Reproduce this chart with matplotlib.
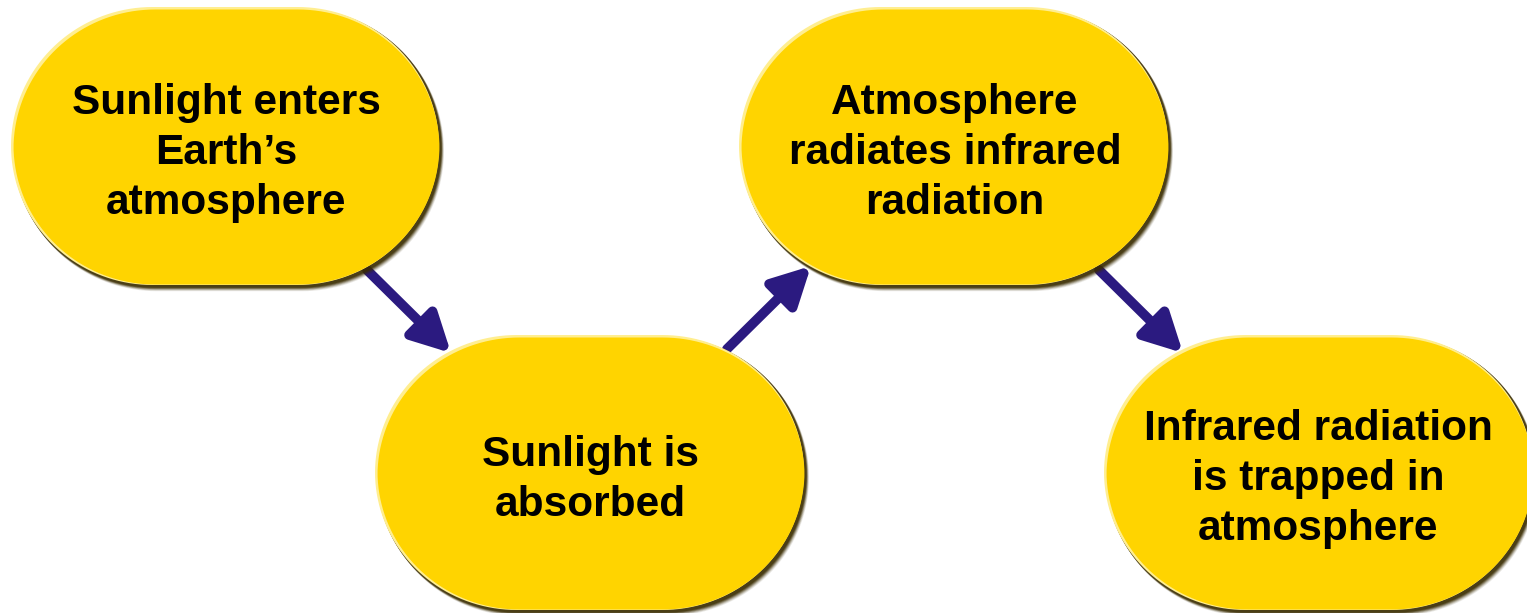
import numpy as np
import matplotlib
matplotlib.use("Agg")
import matplotlib.pyplot as plt
from matplotlib.path import Path
from matplotlib.patches import PathPatch, FancyArrowPatch

# ---- data ----
labels = [
    "Sunlight enters\nEarth\u2019s\natmosphere",
    "Sunlight is\nabsorbed",
    "Atmosphere\nradiates infrared\nradiation",
    "Infrared radiation\nis trapped in\natmosphere",
]
# flow order: step i -> step i+1
flow = [(0, 1), (1, 2), (2, 3)]

# ---- layout (pixel coordinates) ----
W, H = 1527, 613
boxes = [  # x0, y0, x1, y1
    (12, 8, 441, 287),
    (376, 336, 806, 612),
    (740, 8, 1170, 287),
    (1105, 336, 1535, 612),
]
text_centers = [(226, 153), (590, 480), (955, 153), (1318, 479)]
arrows = [((367, 270), (451, 353)), ((727, 349), (811, 266)), ((1099, 270), (1183, 353))]

FILL = "#FFD400"
ARROW = "#2B1A80"

fig = plt.figure(figsize=(W / 100, H / 100), dpi=100)
ax = fig.add_axes([0, 0, 1, 1])
ax.set_xlim(0, W)
ax.set_ylim(H, 0)
ax.axis("off")


def stadium(x0, y0, x1, y1, rx, ry, n=40):
    t = np.linspace(0, np.pi / 2, n)
    pts = []
    cx, cy = x1 - rx, y0 + ry
    pts += list(zip(cx + rx * np.sin(t), cy - ry * np.cos(t)))
    cx, cy = x1 - rx, y1 - ry
    pts += list(zip(cx + rx * np.cos(t), cy + ry * np.sin(t)))
    cx, cy = x0 + rx, y1 - ry
    pts += list(zip(cx - rx * np.sin(t), cy + ry * np.cos(t)))
    cx, cy = x0 + rx, y0 + ry
    pts += list(zip(cx - rx * np.cos(t), cy - ry * np.sin(t)))
    pts.append(pts[0])
    return Path(pts, closed=True)


for (p0, p1) in arrows:
    a = FancyArrowPatch(p0, p1, arrowstyle="-|>,head_length=2.3,head_width=1.2",
                        mutation_scale=10, lw=7, color=ARROW, zorder=1,
                        shrinkA=0, shrinkB=0)
    ax.add_patch(a)

for (x0, y0, x1, y1), lab, (tx, ty) in zip(boxes, labels, text_centers):
    w, h = x1 - x0, y1 - y0
    rx, ry = 0.33 * w, 0.5 * h
    for k, al in [(6, 0.1), (5, 0.15), (4, 0.22), (3, 0.32), (2, 0.45), (1, 0.6)]:
        p = stadium(x0 + k * 0.5, y0 + k * 0.5, x1 + k * 0.5, y1 + k * 0.7, rx, ry)
        ax.add_patch(PathPatch(p, facecolor="#3A2C00", edgecolor="none", alpha=al, zorder=2))
    p = stadium(x0 - 1, y0 - 1, x1 - 2, y1 - 2, rx, ry)
    ax.add_patch(PathPatch(p, facecolor="#FFEE90", edgecolor="none", zorder=3))
    p = stadium(x0 + 1.5, y0 + 1.5, x1 - 1.5, y1 - 2.5, rx, ry)
    ax.add_patch(PathPatch(p, facecolor=FILL, edgecolor="none", zorder=4))
    ax.text(tx, ty, lab, ha="center", va="center", fontsize=30.5, fontweight="bold",
            family=["Liberation Sans", "DejaVu Sans"], linespacing=1.33, zorder=5)

fig.savefig("out.png", dpi=100, facecolor="white")
